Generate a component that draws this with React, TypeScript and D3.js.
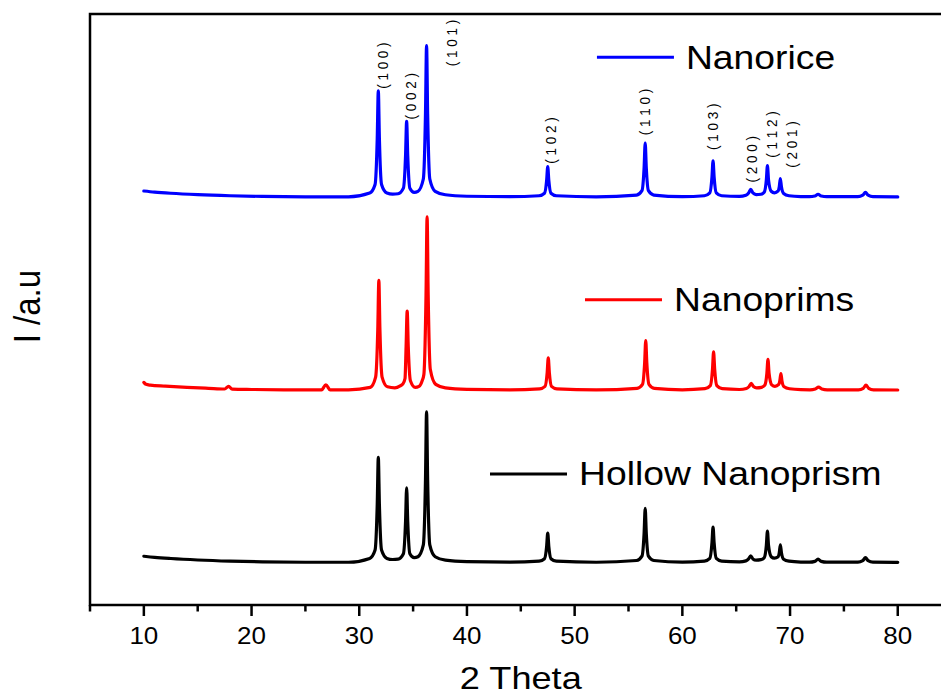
import React from "react";
import * as d3 from "d3";

// ---- data (2θ in degrees, intensity in a.u. above each pattern's own baseline) ----
const seriesNames = ["Nanorice", "Nanoprims", "Hollow Nanoprism"];
const seriesColors = ["#0000ff", "#ff0000", "#000000"];
const seriesOffsets = [414, 218, 43];

const nanoricePattern: [number, number][] = [
  [10, 6.3], [11, 5.2], [12.5, 4], [15, 2.6], [18, 1.5], [21, 0.8], [25, 0.4], [29, 0.4],
  [30.97, 4.3], [31.47, 13], [31.67, 59.4], [31.77, 108], [31.87, 59.4], [32.07, 13], [32.57, 4.3], [33.1, 3.2],
  [33.6, 3.5], [34.1, 9.2], [34.3, 42.4], [34.4, 77], [34.5, 42.4], [34.7, 9.2], [35.1, 5],
  [35.45, 6], [35.95, 18.5], [36.15, 84.7], [36.25, 154], [36.35, 84.7], [36.55, 18.5], [37.05, 6], [38, 2.5], [40, 1], [44, 0.5],
  [46.7, 1.5], [47.2, 4], [47.4, 17], [47.5, 31], [47.6, 17], [47.8, 4], [48.3, 1.5], [52, 0.4],
  [55.75, 2.2], [56.25, 6.6], [56.45, 30], [56.55, 55], [56.65, 30], [56.85, 6.6], [57.35, 2.2], [60, 0.5],
  [62.05, 1.5], [62.55, 4.4], [62.75, 20.4], [62.85, 37], [62.95, 20.4], [63.15, 4.4], [63.65, 1.5], [65.3, 0.8],
  [65.9, 2], [66.15, 4.3], [66.35, 8], [66.55, 4.3], [66.85, 2.7],
  [67.3, 3], [67.6, 5], [67.8, 17.6], [67.9, 32], [68, 17.6], [68.25, 6], [68.55, 4.5], [68.9, 6.5], [69.0, 10.5], [69.1, 19], [69.2, 10.5], [69.4, 3.8], [69.9, 1.5], [71, 0.6],
  [71.8, 0.5], [72.3, 1.2], [72.6, 3], [72.9, 1.2], [73.4, 0.5],
  [76.3, 0.5], [76.75, 2], [77, 5], [77.25, 2], [77.7, 0.5], [80, 0.3],
];

const nanoprimsPattern: [number, number][] = [
  [10, 8], [10.2, 6], [10.6, 5.2], [12, 4.2], [14, 3], [16, 2], [17.5, 1.3], [17.87, 4], [18.2, 1.2], [20, 0.8], [23, 0.5],
  [26.5, 0.4], [26.9, 5.5], [27.3, 0.4], [29, 0.5],
  [31.02, 3], [31.52, 13.4], [31.72, 61.3], [31.82, 111.5], [31.92, 61.3], [32.12, 13.4], [32.62, 3.5], [33.3, 2.5],
  [33.8, 4.5], [34.05, 6.5], [34.25, 12], [34.35, 44.3], [34.45, 80.5], [34.55, 44.3], [34.75, 9.7], [35.2, 3],
  [35.55, 4], [35.85, 10], [36.0, 16], [36.2, 97], [36.3, 176], [36.4, 97], [36.6, 21], [37.1, 6], [38, 2.5], [40, 1], [44, 0.5],
  [46.75, 1.5], [47.25, 4], [47.45, 18], [47.55, 33], [47.65, 18], [47.85, 4], [48.35, 1.5], [52, 0.4],
  [55.8, 2], [56.3, 6], [56.5, 27.8], [56.6, 50.5], [56.7, 27.8], [56.9, 6], [57.4, 2], [60, 0.5],
  [62.1, 1.6], [62.6, 4.7], [62.8, 21.5], [62.9, 39], [63.0, 21.5], [63.2, 4.7], [63.7, 1.6], [65.3, 0.8],
  [65.95, 1.8], [66.2, 3.8], [66.4, 7], [66.6, 3.8], [66.9, 2.5],
  [67.35, 3], [67.65, 5], [67.85, 17.3], [67.95, 31.5], [68.05, 17.3], [68.3, 5.5], [68.6, 4], [68.95, 6], [69.05, 9.5], [69.15, 17], [69.25, 9.5], [69.45, 3.5], [69.95, 1.5], [71, 0.6],
  [71.85, 0.5], [72.35, 1.3], [72.65, 3.2], [72.95, 1.3], [73.45, 0.5],
  [76.35, 0.5], [76.8, 2], [77.05, 5.2], [77.3, 2], [77.75, 0.5], [80, 0.3],
];

const hollowPattern: [number, number][] = [
  [10, 6.5], [11, 5.4], [12.5, 4.2], [15, 2.7], [18, 1.5], [21, 0.8], [25, 0.4], [29, 0.4],
  [30.97, 4.3], [31.47, 12.8], [31.67, 59], [31.77, 107], [31.87, 59], [32.07, 12.8], [32.57, 4.3], [33.1, 3.2],
  [33.6, 3.5], [34.1, 9], [34.3, 42], [34.4, 76], [34.5, 42], [34.7, 9], [35.1, 5],
  [35.45, 6], [35.95, 18], [36.15, 84], [36.25, 153], [36.35, 84], [36.55, 18], [37.05, 6], [38, 2.5], [40, 1], [44, 0.5],
  [46.7, 1.5], [47.2, 4], [47.4, 16.5], [47.5, 30], [47.6, 16.5], [47.8, 4], [48.3, 1.5], [52, 0.4],
  [55.75, 2.2], [56.25, 6.6], [56.45, 30], [56.55, 55], [56.65, 30], [56.85, 6.6], [57.35, 2.2], [60, 0.5],
  [62.05, 1.5], [62.55, 4.3], [62.75, 20], [62.85, 36], [62.95, 20], [63.15, 4.3], [63.65, 1.5], [65.3, 0.8],
  [65.9, 1.8], [66.15, 3.8], [66.35, 7], [66.55, 3.8], [66.85, 2.5],
  [67.3, 3], [67.6, 5], [67.8, 17.6], [67.9, 32], [68, 17.6], [68.25, 6], [68.55, 4.5], [68.9, 6], [69.0, 10], [69.1, 18], [69.2, 10], [69.4, 3.5], [69.9, 1.5], [71, 0.6],
  [71.8, 0.5], [72.3, 1.3], [72.6, 3.5], [72.9, 1.3], [73.4, 0.5],
  [76.3, 0.5], [76.75, 2], [77, 5], [77.25, 2], [77.7, 0.5], [80, 0.3],
];

const patterns = [nanoricePattern, nanoprimsPattern, hollowPattern];

// Miller index annotations (anchor: 2θ, absolute intensity)
const millerLabels = ["( 1 0 0 )", "( 0 0 2 )", "( 1 0 1 )", "( 1 0 2 )", "( 1 1 0 )", "( 1 0 3 )", "( 2 0 0 )", "( 1 1 2 )", "( 2 0 1 )"];
const millerTheta = [32.14, 34.74, 38.6, 47.76, 56.49, 62.83, 66.4, 68.25, 70.17];
const millerIntensity = [524, 493, 547, 448, 477, 462, 429, 454, 444];

// legend anchors (2θ of line start, absolute intensity)
const legendTheta = [52.07, 50.96, 42.14];
const legendIntensity = [556, 310, 133];

const xTickValues = [10, 20, 30, 40, 50, 60, 70, 80];
const xMinorValues = [5, 15, 25, 35, 45, 55, 65, 75, 85];

const xTitle = "2 Theta";
const yTitle = "I /a.u";

const W = 941;
const H = 695;
const FONT = "'Liberation Sans', Arial, Helvetica, sans-serif";
const SX = 1.13; // horizontal stretch of the original rendering

export default function App() {
  const x = d3.scaleLinear().domain([5, 85]).range([90, 951.6]);
  const y = d3.scaleLinear().domain([0, 600]).range([605, 14]);
  const top = y(600);
  const bottom = y(0);
  const left = x(5);
  const right = x(85);

  const makeLine = (offset: number) =>
    d3
      .line<[number, number]>()
      .x((d) => x(d[0]))
      .y((d) => y(d[1] + offset))
      .curve(d3.curveMonotoneX);

  return (
    <svg width={W} height={H} style={{ position: "absolute", left: 0, top: 0, background: "#fff" }}>
      <rect x={0} y={0} width={W} height={H} fill="#fff" />
      {/* patterns */}
      {patterns.map((p, i) => (
        <path
          key={i}
          d={makeLine(seriesOffsets[i])(p) || ""}
          fill="none"
          stroke={seriesColors[i]}
          strokeWidth={3.2}
          strokeLinejoin="round"
          strokeLinecap="round"
        />
      ))}

      {/* frame */}
      <rect x={left} y={top} width={right - left} height={bottom - top} fill="none" stroke="#000" strokeWidth={2.5} />

      {/* ticks */}
      {xTickValues.map((t) => (
        <g key={"M" + t}>
          <line x1={x(t)} x2={x(t)} y1={bottom} y2={bottom + 11} stroke="#000" strokeWidth={2.5} />
          <text
            transform={`translate(${x(t)},${bottom + 39}) scale(${SX},1)`}
            textAnchor="middle"
            fontFamily={FONT}
            fontSize={23}
            fill="#000"
          >
            {t}
          </text>
        </g>
      ))}
      {xMinorValues.map((t) => (
        <line key={"m" + t} x1={x(t)} x2={x(t)} y1={bottom} y2={bottom + 6.5} stroke="#000" strokeWidth={2.5} />
      ))}

      {/* axis titles */}
      <text
        transform={`translate(${x(45.0)},689) scale(${SX},1)`}
        textAnchor="middle"
        fontFamily={FONT}
        fontSize={32}
        fill="#000"
      >
        {xTitle}
      </text>
      <text
        transform={`translate(27,${y(303)}) rotate(-90) scale(1,${SX})`}
        textAnchor="middle"
        dy="0.35em"
        fontFamily={FONT}
        fontSize={33}
        fill="#000"
      >
        {yTitle}
      </text>

      {/* Miller indices */}
      {millerLabels.map((lab, i) => (
        <text
          key={lab}
          transform={`translate(${x(millerTheta[i])},${y(millerIntensity[i])}) rotate(-90) scale(1,${SX})`}
          textAnchor="start"
          dy="0.36em"
          fontFamily={FONT}
          fontSize={13.5}
          fill="#000"
        >
          {lab}
        </text>
      ))}

      {/* legends */}
      {seriesNames.map((name, i) => {
        const lx = x(legendTheta[i]);
        const ly = y(legendIntensity[i]);
        return (
          <g key={name}>
            <line x1={lx} x2={lx + 77} y1={ly} y2={ly} stroke={seriesColors[i]} strokeWidth={3} />
            <text
              transform={`translate(${lx + 89},${ly + 11.3}) scale(${SX},1)`}
              fontFamily={FONT}
              fontSize={33}
              fill="#000"
            >
              {name}
            </text>
          </g>
        );
      })}
    </svg>
  );
}
